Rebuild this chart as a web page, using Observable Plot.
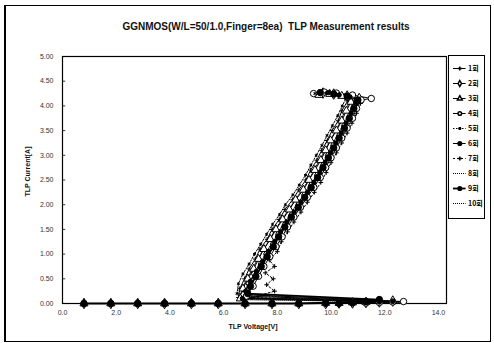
<!DOCTYPE html>
<html><head><meta charset="utf-8">
<script src="https://cdn.jsdelivr.net/npm/d3@7"></script>
<script src="https://cdn.jsdelivr.net/npm/@observablehq/plot@0.6"></script>
<style>
body{margin:0;background:#fff;}
#wrap{position:relative;width:494px;height:343px;background:#fff;overflow:hidden;font-family:"Liberation Sans",Arial,sans-serif;}
#border{position:absolute;left:4px;top:5px;width:484px;height:335px;border:1px solid #000;border-left:2px solid #000;}
#title{position:absolute;top:21px;left:0;width:532px;text-align:center;font:bold 10px "Liberation Sans",Arial,sans-serif;color:#111;}
#xlab{position:absolute;top:323px;left:0;width:506px;text-align:center;font:bold 7px "Liberation Sans",Arial,sans-serif;color:#111;}
#ylab{position:absolute;top:168px;left:-23px;width:100px;text-align:center;font:bold 7px "Liberation Sans",Arial,sans-serif;color:#111;transform:rotate(-90deg);}
#chart{position:absolute;left:0;top:0;}
#legend{position:absolute;left:448px;top:55px;width:35px;height:162px;border:1px solid #000;background:#fff;}
</style></head>
<body><div id="wrap"><div id="border"></div><div id="chart"></div><div id="title">GGNMOS(W/L=50/1.0,Finger=8ea)&nbsp; TLP Measurement results</div><div id="xlab">TLP Voltage[V]</div><div id="ylab">TLP Current[A]</div><div id="legend"></div></div>
<script>
const runNames = ["1회","2회","3회","4회","5회","6회","7회","8회","9회","10회"];
const xTicks = [0,2,4,6,8,10,12,14];
const yTicks = [0,0.5,1,1.5,2,2.5,3,3.5,4,4.5,5];
// pre-trigger pulse voltages (current ~0)
const preVolts = [0.8,1.8,2.8,3.8,4.8,5.8,6.8,7.8,8.8,9.8,10.3,10.8,11.3,11.8,12.3,12.7];
const pre1 = [0,0,0,0,0,0,0,0,0,0.01,0.01,0.02,0.04];
const pre2 = [0,0,0,0,0,0,0,0,0,0,0.01,0.01,0.02,0.03,0.05];
const pre3 = [0,0,0,0,0,0,0,0,0,0.01,0.01,0.02,0.03,0.05];
const pre4 = [0,0,0,0,0,0,0,0,0,0,0,0.01,0.01,0.02,0.03,0.04];
const pre5 = [0,0,0,0,0,0,0,0,0,0.01,0.02,0.03];
const pre6 = [0,0,0,0,0,0,0,0,0,0,0.01,0.01,0.02,0.03,0.04];
const pre7 = [0,0,0,0,0,0,0,0,0,0.01,0.01,0.02,0.03,0.06];
const pre8 = [0,0,0,0,0,0,0,0,0,0,0,0.01,0.01,0.02,0.02,0.03];
const pre9 = [0,0,0,0,0,0,0,0,0,0.01,0.01,0.02,0.04,0.08];
const pre10 = [0,0,0,0,0,0,0,0,0,0,0.01,0.01,0.02,0.03,0.04];
// post-snapback [voltage, current]
const rise1 = [[6.55,0.12],[6.6,0.3],[6.78,0.5],[6.95,0.7],[7.18,0.9],[7.35,1.1],[7.62,1.3],[7.8,1.5],[8.07,1.7],[8.28,1.9],[8.57,2.1],[8.8,2.3],[9.06,2.5],[9.24,2.7],[9.47,2.9],[9.65,3.1],[9.86,3.3],[10.04,3.5],[10.27,3.7],[10.4,3.9],[10.62,4.1],[10.3,4.22],[9.9,4.25],[9.5,4.24]];
const rise2 = [[6.75,0.18],[6.95,0.4],[7.15,0.6],[7.4,0.8],[7.6,1.0],[7.85,1.2],[8.05,1.4],[8.3,1.6],[8.55,1.8],[8.8,2.0],[9.02,2.2],[9.28,2.4],[9.5,2.6],[9.72,2.8],[9.9,3.0],[10.1,3.2],[10.32,3.4],[10.5,3.6],[10.72,3.8],[10.88,4.0],[11.05,4.15],[10.6,4.2],[10.1,4.24],[9.7,4.26]];
const rise3 = [[6.62,0.1],[6.72,0.3],[6.9,0.5],[7.12,0.7],[7.3,0.9],[7.5,1.1],[7.74,1.3],[7.95,1.5],[8.2,1.7],[8.45,1.9],[8.68,2.1],[8.97,2.3],[9.18,2.5],[9.4,2.7],[9.62,2.9],[9.8,3.1],[9.98,3.3],[10.2,3.5],[10.4,3.7],[10.57,3.9],[10.74,4.08],[10.4,4.2],[9.95,4.24],[9.55,4.22]];
const rise4 = [[6.85,0.15],[7.1,0.35],[7.3,0.55],[7.5,0.75],[7.72,0.95],[7.95,1.15],[8.18,1.35],[8.38,1.55],[8.62,1.75],[8.86,1.95],[9.12,2.15],[9.36,2.35],[9.6,2.55],[9.8,2.75],[10.0,2.95],[10.2,3.15],[10.4,3.35],[10.6,3.55],[10.8,3.75],[10.95,3.95],[11.12,4.12],[11.5,4.15],[10.8,4.22],[10.2,4.26],[9.75,4.28],[9.35,4.25]];
const rise5 = [[6.5,0.2],[6.55,0.4],[6.72,0.6],[6.95,0.8],[7.15,1.0],[7.38,1.2],[7.6,1.4],[7.82,1.6],[8.08,1.8],[8.3,2.0],[8.58,2.2],[8.82,2.4],[9.05,2.6],[9.25,2.8],[9.45,3.0],[9.66,3.2],[9.85,3.4],[10.05,3.6],[10.25,3.8],[10.42,4.0],[10.55,4.15],[10.2,4.23],[9.8,4.26],[9.4,4.25]];
const rise6 = [[6.7,0.1],[6.82,0.25],[7.0,0.45],[7.22,0.65],[7.45,0.85],[7.66,1.05],[7.9,1.25],[8.12,1.45],[8.35,1.65],[8.62,1.85],[8.88,2.05],[9.12,2.25],[9.36,2.45],[9.58,2.65],[9.78,2.85],[9.98,3.05],[10.18,3.25],[10.38,3.45],[10.56,3.65],[10.75,3.85],[10.92,4.05],[10.7,4.18],[10.3,4.22],[9.9,4.27]];
const rise7 = [[7.05,0.12],[7.9,0.25],[7.6,0.38],[7.85,0.5],[7.55,0.62],[7.9,0.75],[7.7,0.88],[8.0,1.05],[8.15,1.25],[8.38,1.45],[8.62,1.65],[8.88,1.85],[9.12,2.05],[9.38,2.25],[9.62,2.45],[9.82,2.65],[10.0,2.85],[10.2,3.05],[10.4,3.25],[10.6,3.45],[10.78,3.65],[10.95,3.85],[11.1,4.05],[10.75,4.18],[10.3,4.23]];
const rise8 = [[6.6,0.08],[6.68,0.28],[6.85,0.48],[7.05,0.68],[7.25,0.88],[7.47,1.08],[7.7,1.28],[7.9,1.48],[8.15,1.68],[8.4,1.88],[8.65,2.08],[8.9,2.28],[9.15,2.48],[9.35,2.68],[9.55,2.88],[9.75,3.08],[9.95,3.28],[10.15,3.48],[10.35,3.68],[10.5,3.88],[10.7,4.08],[10.35,4.2],[9.9,4.25],[9.45,4.22]];
const rise9 = [[6.9,0.2],[7.0,0.35],[7.2,0.55],[7.4,0.75],[7.62,0.95],[7.85,1.15],[8.05,1.35],[8.28,1.55],[8.52,1.75],[8.78,1.95],[9.02,2.15],[9.26,2.35],[9.5,2.55],[9.7,2.75],[9.9,2.95],[10.1,3.15],[10.3,3.35],[10.5,3.55],[10.68,3.75],[10.85,3.95],[11.0,4.12],[10.6,4.2],[10.1,4.24],[9.6,4.27]];
const rise10 = [[6.72,0.12],[6.85,0.32],[7.05,0.52],[7.25,0.72],[7.48,0.92],[7.68,1.12],[7.92,1.32],[8.12,1.52],[8.38,1.72],[8.62,1.92],[8.88,2.12],[9.12,2.32],[9.38,2.52],[9.58,2.72],[9.78,2.92],[9.95,3.12],[10.15,3.32],[10.35,3.52],[10.55,3.72],[10.72,3.92],[10.9,4.1],[10.5,4.2],[10.0,4.25],[9.5,4.23]];

const pres = [pre1,pre2,pre3,pre4,pre5,pre6,pre7,pre8,pre9,pre10];
const rises = [rise1,rise2,rise3,rise4,rise5,rise6,rise7,rise8,rise9,rise10];
const styles = [
  {symbol:"plus", fill:"none", r:1.6, dash:null, sw:1},
  {symbol:"diamond", fill:"#fff", r:3.2, dash:null, sw:1},
  {symbol:"triangle", fill:"#fff", r:3, dash:null, sw:1},
  {symbol:"circle", fill:"#fff", r:3.2, dash:null, sw:1},
  {symbol:"asterisk", fill:"none", r:1.6, dash:"1.5,1.5", sw:1},
  {symbol:"circle", fill:"#000", r:2.2, dash:null, sw:1},
  {symbol:"plus", fill:"none", r:1.6, dash:"2,2", sw:1},
  {symbol:null, dash:"1,1", sw:1},
  {symbol:"circle", fill:"#000", r:3.2, dash:null, sw:1.8},
  {symbol:null, dash:"1,1", sw:1}
];

const runs = runNames.map((name, k) => {
  const pts = pres[k].map((a, j) => ({v: preVolts[j], i: a}))
    .concat(rises[k].map(([v, i]) => ({v, i})));
  return {name, pts, st: styles[k]};
});

const marks = [];
runs.forEach(r => {
  marks.push(Plot.line(r.pts, {x:"v", y:"i", stroke:"#000", strokeWidth:r.st.sw, strokeDasharray:r.st.dash || undefined}));
});
runs.forEach(r => {
  if (r.st.symbol) marks.push(Plot.dot(r.pts, {x:"v", y:"i", symbol:r.st.symbol, r:r.st.r, fill:r.st.fill, stroke:"#000", strokeWidth:1}));
});

const chart = Plot.plot({
  width: 494, height: 343,
  marginLeft: 62, marginRight: 48, marginTop: 56, marginBottom: 40,
  style: {background:"transparent", fontFamily:"Liberation Sans, Arial, sans-serif", fontSize:"7px", color:"#333"},
  x: {domain:[0,14.3]},
  y: {domain:[0,5]},
  marks: [
    Plot.frame({stroke:"#000", strokeWidth:1.2}),
    Plot.axisX({ticks:xTicks, tickFormat:d3.format(".1f"), tickSize:0, tickPadding:7, label:null, fontSize:7}),
    Plot.axisY({ticks:yTicks, tickFormat:d3.format(".2f"), tickSize:0, tickPadding:9, label:null, fontSize:7}),
    Plot.ruleY(yTicks, {x1:0, x2:0.12, stroke:"#000", strokeWidth:0.8}),
    ...marks
  ]
});
document.getElementById("chart").appendChild(chart);

// legend
const legMarks = [];
runs.forEach(r => {
  legMarks.push(Plot.ruleY([r.name], {x1:0, x2:1.3, stroke:"#000", strokeWidth:r.st.sw, strokeDasharray:r.st.dash || undefined}));
  if (r.st.symbol) legMarks.push(Plot.dot([r.name], {x:0.65, y:d=>d, symbol:r.st.symbol, r:Math.min(r.st.r,2)*0.9, fill:r.st.fill, stroke:"#000"}));
});
legMarks.push(Plot.text(runNames, {x:1.5, y:d=>d, text:d=>d, textAnchor:"start", fontSize:7, fontWeight:"bold", fill:"#000"}));
const legend = Plot.plot({
  width: 35, height: 162,
  marginLeft: 4, marginRight: 0, marginTop: 2, marginBottom: 6,
  style:{background:"transparent", fontFamily:"'Noto Sans CJK KR', sans-serif"},
  x:{domain:[0,3.2], axis:null},
  y:{domain:runNames, axis:null, type:"point", padding:0.5},
  marks: legMarks
});
legend.querySelectorAll("text").forEach(t => t.style.fontFamily = "'Noto Sans CJK KR', sans-serif");
document.getElementById("legend").appendChild(legend);
</script></body></html>
